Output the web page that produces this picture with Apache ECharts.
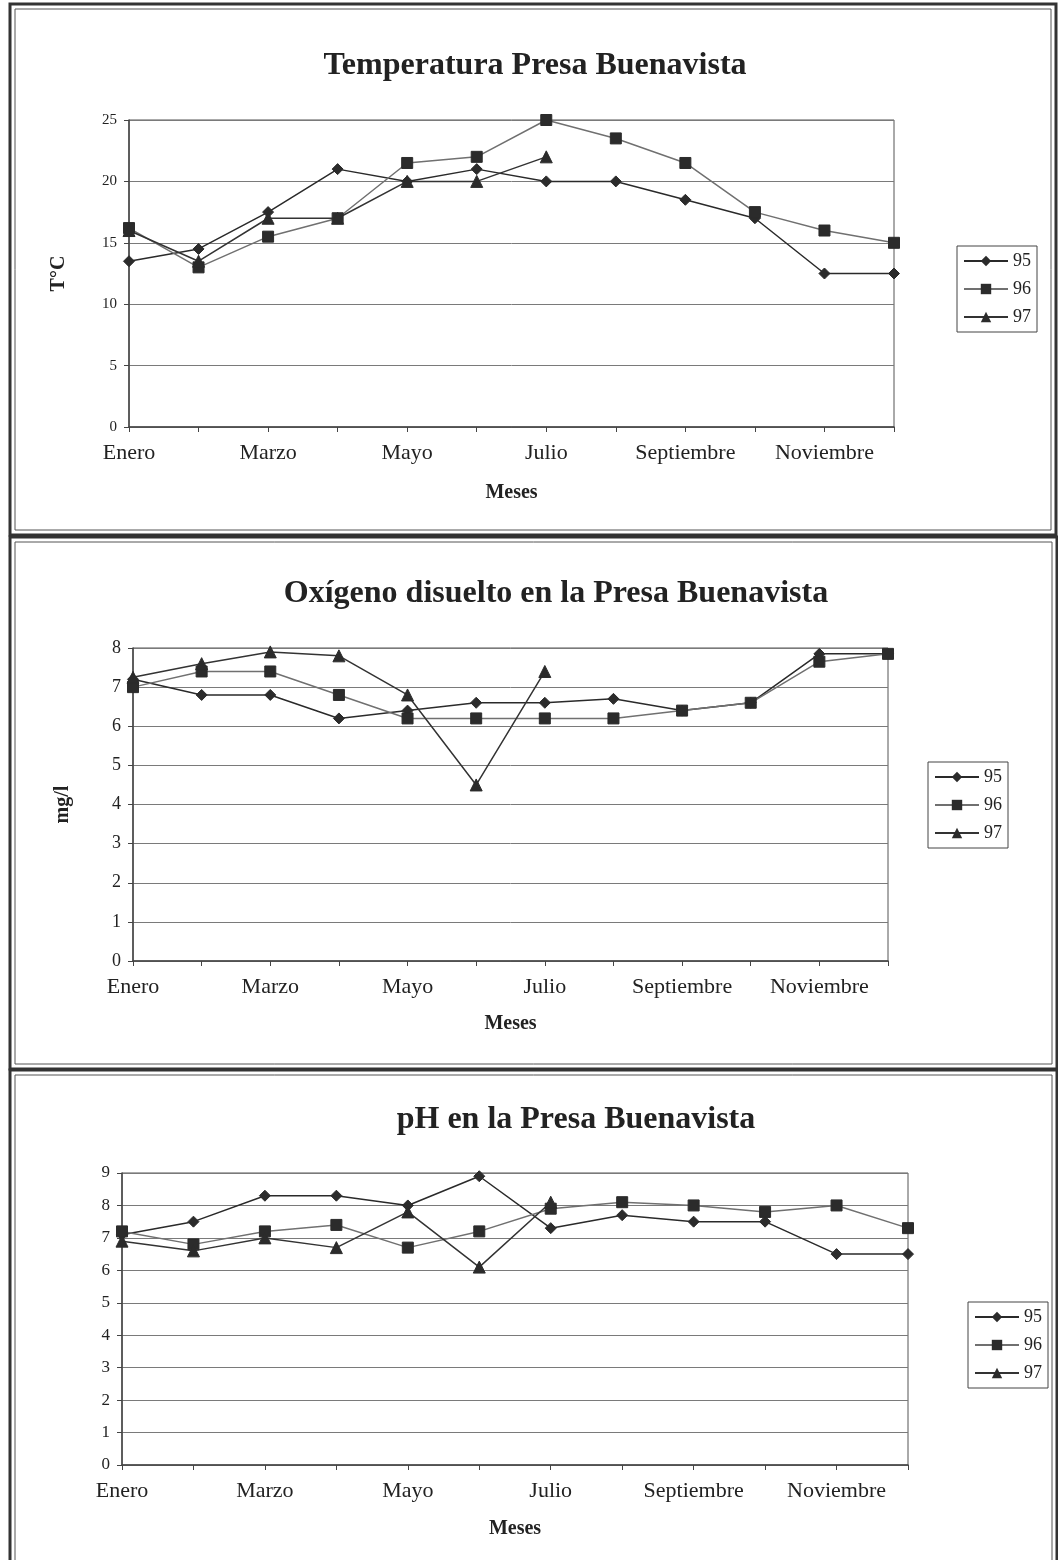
<!DOCTYPE html>
<html>
<head>
<meta charset="utf-8">
<script src="https://cdn.jsdelivr.net/npm/echarts@6/dist/echarts.min.js"></script>
<style>
  html, body { margin: 0; padding: 0; background: #fff; }
  #main { width: 1058px; height: 1560px; }
</style>
</head>
<body>
<div id="main"></div>
<script>
// meses (eje x)
var months = ['Enero', 'Febrero', 'Marzo', 'Abril', 'Mayo', 'Junio', 'Julio',
              'Agosto', 'Septiembre', 'Octubre', 'Noviembre', 'Diciembre'];
var yearNames = ['95', '96', '97'];

// Temperatura (°C)
var temp95 = [13.5, 14.5, 17.5, 21, 20, 21, 20, 20, 18.5, 17, 12.5, 12.5];
var temp96 = [16.2, 13, 15.5, 17, 21.5, 22, 25, 23.5, 21.5, 17.5, 16, 15];
var temp97 = [16, 13.5, 17, 17, 20, 20, 22, null, null, null, null, null];

// Oxigeno disuelto (mg/l)
var oxi95 = [7.2, 6.8, 6.8, 6.2, 6.4, 6.6, 6.6, 6.7, 6.4, 6.6, 7.85, 7.85];
var oxi96 = [7.0, 7.4, 7.4, 6.8, 6.2, 6.2, 6.2, 6.2, 6.4, 6.6, 7.65, 7.85];
var oxi97 = [7.25, 7.6, 7.9, 7.8, 6.8, 4.5, 7.4, null, null, null, null, null];

// pH
var ph95 = [7.1, 7.5, 8.3, 8.3, 8.0, 8.9, 7.3, 7.7, 7.5, 7.5, 6.5, 6.5];
var ph96 = [7.2, 6.8, 7.2, 7.4, 6.7, 7.2, 7.9, 8.1, 8.0, 7.8, 8.0, 7.3];
var ph97 = [6.9, 6.6, 7.0, 6.7, 7.8, 6.1, 8.1, null, null, null, null, null];

var serif = '"Liberation Serif", "Times New Roman", serif';
var ink = '#222';

var myChart = echarts.init(document.getElementById('main'));

// cada panel: titulo, eje y, datos y posicion en la pagina
var panels = [
  { title: 'Temperatura Presa Buenavista', titleX: 530, titleY: 45, yName: 'T°C',
    max: 25, interval: 5, data: [temp95, temp96, temp97],
    grid: { left: 129, right: 164, top: 120, height: 307 }, tickSize: 15, nameGap: 56,
    legend: { left: 957, top: 246 } },
  { title: 'Oxígeno disuelto en la Presa Buenavista', titleX: 551, titleY: 573, yName: 'mg/l',
    max: 8, interval: 1, data: [oxi95, oxi96, oxi97],
    grid: { left: 133, right: 170, top: 648, height: 313 }, tickSize: 18, nameGap: 53,
    legend: { left: 928, top: 762 } },
  { title: 'pH en la Presa Buenavista', titleX: 571, titleY: 1099, yName: '',
    max: 9, interval: 1, data: [ph95, ph96, ph97],
    grid: { left: 122, right: 150, top: 1173, height: 292 }, tickSize: 17, nameGap: 54,
    legend: { left: 968, top: 1302 } }
];

var symbols = ['diamond', 'rect', 'triangle'];
var symbolSizes = [11, 11, 12];
var lineColors = ['#2a2a2a', '#707070', '#333'];

var titles = [], grids = [], xAxes = [], yAxes = [], legends = [], series = [];

panels.forEach(function (p, i) {
  titles.push({
    text: p.title, left: p.titleX, top: p.titleY, textAlign: 'center',
    textStyle: { fontFamily: serif, fontSize: 32, fontWeight: 'bold', color: ink }
  });
  grids.push({
    left: p.grid.left, right: p.grid.right, top: p.grid.top, height: p.grid.height,
    show: true, borderColor: '#555', borderWidth: 1, backgroundColor: 'transparent'
  });
  xAxes.push({
    type: 'category', gridIndex: i, data: months, boundaryGap: false,
    name: 'Meses', nameLocation: 'middle', nameGap: p.nameGap,
    nameTextStyle: { fontFamily: serif, fontSize: 20, fontWeight: 'bold', color: ink },
    axisLine: { lineStyle: { color: '#444', width: 1.5 } },
    axisTick: { show: true, interval: 0, length: 5, inside: false, lineStyle: { color: '#444' } },
    axisLabel: { interval: 1, margin: 15, fontFamily: serif, fontSize: 22, color: ink },
    splitLine: { show: false }
  });
  yAxes.push({
    type: 'value', gridIndex: i, min: 0, max: p.max, interval: p.interval,
    name: p.yName, nameLocation: 'middle', nameGap: 60, nameRotate: 90,
    nameTextStyle: { fontFamily: serif, fontSize: 20, fontWeight: 'bold', color: ink },
    axisLine: { show: true, lineStyle: { color: '#444', width: 1.5 } },
    axisTick: { show: true, length: 5, lineStyle: { color: '#444' } },
    axisLabel: { margin: 12, fontFamily: serif, fontSize: p.tickSize, color: ink },
    splitLine: { show: true, lineStyle: { color: '#7a7a7a', width: 1 } }
  });
  legends.push({
    orient: 'vertical', left: p.legend.left, top: p.legend.top,
    data: yearNames, itemWidth: 44, itemHeight: 13, itemGap: 10,
    padding: [6, 6, 6, 6], borderColor: '#444', borderWidth: 1,
    textStyle: { fontFamily: serif, fontSize: 18, color: ink },
    selectedMode: false
  });
  p.data.forEach(function (vals, k) {
    series.push({
      name: yearNames[k], type: 'line', xAxisIndex: i, yAxisIndex: i,
      data: vals, symbol: symbols[k], symbolSize: symbolSizes[k],
      showAllSymbol: true, connectNulls: false,
      lineStyle: { color: lineColors[k], width: 1.5 },
      itemStyle: { color: '#2b2b2b', borderColor: '#2b2b2b' },
      emphasis: { disabled: true },
      animation: false
    });
  });
});

// marcos dobles de cada grafica
var frames = [[10, 4, 1046, 531], [10, 537, 1047, 532], [10, 1070, 1047, 520]];
var graphics = [];
frames.forEach(function (f) {
  graphics.push({ type: 'rect', shape: { x: f[0], y: f[1], width: f[2], height: f[3] },
    style: { fill: 'none', stroke: '#333', lineWidth: 3 }, silent: true });
  graphics.push({ type: 'rect', shape: { x: f[0] + 5, y: f[1] + 5, width: f[2] - 10, height: f[3] - 10 },
    style: { fill: 'none', stroke: '#555', lineWidth: 1 }, silent: true });
});

var option = {
  backgroundColor: '#fff',
  animation: false,
  title: titles,
  grid: grids,
  xAxis: xAxes,
  yAxis: yAxes,
  legend: legends,
  series: series,
  graphic: graphics
};
myChart.setOption(option);
</script>
</body>
</html>
